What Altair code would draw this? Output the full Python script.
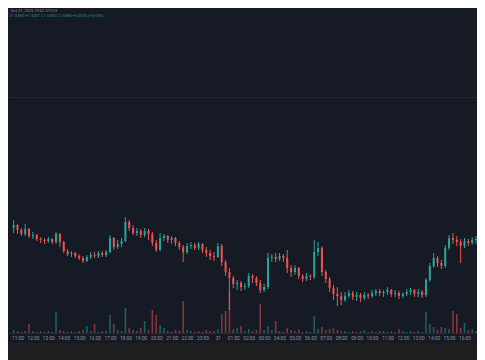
import altair as alt
import pandas as pd

# ---- data (price in chart units, 15-minute candles) ----
header_lines = [", Oct 31, 2025 19:02 UTC+3",
                "O1.5383 H1.5401 L1.5380 C1.5388 +0.0005 (+0.03%)"]
start_time = "2025-10-30 10:45"
first_open = 122
closes = [125, 120, 116, 121, 114, 115, 111, 110, 109, 111, 108, 116, 108, 99, 96, 97, 94, 92, 89, 93,
          95, 94, 97, 95, 98, 112, 103, 106, 109, 128, 122, 117, 119, 115, 119, 116, 107, 100, 112, 114,
          110, 112, 107, 103, 98, 104, 105, 102, 106, 100, 97, 94, 93, 104, 88, 78, 72, 66, 67, 63,
          64, 74, 72, 67, 60, 63, 92, 93, 91, 94, 92, 82, 78, 82, 74, 71, 74, 73, 98, 102,
          78, 71, 62, 56, 54, 50, 54, 57, 53, 55, 52, 55, 54, 57, 59, 57, 58, 60, 56, 57,
          54, 56, 58, 60, 56, 58, 55, 70, 84, 92, 87, 84, 102, 112, 110, 108, 104, 109, 107, 110,
          111]
highs = [130, 126, 122, 126, 122, 118, 116, 113, 112, 113, 112, 118, 117, 109, 101, 99, 98, 96, 94, 95,
         98, 98, 99, 99, 100, 115, 113, 110, 112, 133, 130, 125, 122, 121, 122, 121, 118, 110, 117, 116,
         115, 114, 113, 109, 105, 107, 108, 107, 108, 107, 103, 100, 98, 107, 106, 90, 82, 74, 70, 69,
         67, 77, 76, 74, 70, 66, 97, 96, 97, 97, 96, 100, 85, 85, 83, 76, 77, 76, 110, 108,
         104, 80, 73, 65, 63, 58, 58, 60, 59, 58, 57, 58, 57, 60, 61, 61, 60, 63, 61, 60,
         59, 58, 61, 62, 61, 61, 60, 72, 87, 97, 94, 90, 105, 115, 117, 114, 111, 112, 111, 113,
         114]
lows = [117, 116, 114, 114, 112, 111, 109, 107, 106, 107, 106, 106, 103, 97, 94, 93, 92, 90, 87, 88,
        91, 92, 92, 93, 93, 97, 100, 101, 103, 108, 119, 115, 114, 112, 113, 110, 104, 98, 99, 109,
        107, 106, 104, 100, 88, 96, 101, 100, 100, 97, 93, 90, 89, 92, 84, 74, 40, 62, 60, 59,
        60, 62, 67, 64, 57, 58, 61, 88, 88, 89, 88, 77, 73, 75, 71, 68, 69, 70, 71, 94,
        74, 67, 58, 50, 44, 45, 48, 52, 50, 49, 48, 50, 51, 52, 54, 54, 53, 55, 53, 53,
        51, 52, 54, 55, 53, 53, 52, 53, 68, 82, 83, 81, 82, 100, 106, 104, 87, 102, 104, 105,
        106]
volumes = [30, 20, 10, 20, 90, 20, 10, 20, 10, 20, 10, 210, 30, 20, 10, 20, 10, 20, 30, 70,
           20, 90, 10, 20, 20, 180, 90, 30, 20, 250, 50, 30, 20, 50, 120, 30, 230, 180, 80, 50,
           20, 10, 30, 20, 320, 30, 20, 10, 20, 10, 30, 20, 20, 40, 190, 220, 420, 40, 50, 70,
           20, 40, 20, 30, 290, 30, 70, 30, 120, 20, 10, 50, 30, 20, 30, 10, 20, 10, 170, 40,
           60, 30, 40, 50, 30, 20, 20, 10, 20, 10, 20, 30, 10, 20, 10, 20, 20, 10, 20, 10,
           40, 20, 10, 20, 10, 20, 10, 210, 90, 60, 30, 60, 50, 40, 220, 190, 50, 100, 30, 40,
           20]
hour_ticks = ["2025-10-30T%02d:00:00Z" % h for h in range(11, 24)] + \
             ["2025-10-31T%02d:00:00Z" % h for h in range(0, 17)]

UP, DOWN = "#26a69a", "#ef5350"
BG = "#161a25"
STRIP = "#1f1f21"
W, H = 469, 352        # whole chart
PH = 325               # price/volume pane height
AXH = 10               # time-axis strip height

times = pd.date_range(start_time, periods=len(closes), freq="15min")
opens = [first_open] + closes[:-1]
df = pd.DataFrame({
    "t": times.strftime("%Y-%m-%dT%H:%M:%SZ"),
    "open": opens, "high": highs, "low": lows, "close": closes, "volume": volumes,
})
df["dir"] = ["up" if c >= o else "down" for o, c in zip(opens, closes)]

tick_dt = [alt.DateTime(year=int(s[0:4]), month=int(s[5:7]), date=int(s[8:10]),
                        hours=int(s[11:13]), utc=True) for s in hour_ticks]
x_start = alt.DateTime(year=2025, month=10, date=30, hours=10, minutes=42, seconds=30, utc=True)
x_end = alt.DateTime(year=2025, month=10, date=31, hours=16, minutes=29, seconds=10, utc=True)
xscale = alt.Scale(type="utc", domain=[x_start, x_end])

x_axis = alt.Axis(
    title=None, values=tick_dt, orient="bottom", offset=-(H - PH),
    labelExpr="utchours(datum.value) == 0 ? utcFormat(datum.value, '%d') : utcFormat(datum.value, '%H:%M')",
    labelFontSize=4.8, labelColor="#8d919b", labelPadding=2.5, ticks=False,
    domainColor="#262a35", grid=False, labelOverlap=False, labelFlush=False,
    labelFont="Roboto", zindex=2,
)
X = alt.X("t:T", scale=xscale, axis=x_axis)
pscale = alt.Scale(domain=[17, 342], range=[PH, 0], nice=False, zero=False)
color = alt.Color("dir:N", scale=alt.Scale(domain=["up", "down"], range=[UP, DOWN]), legend=None)

base = alt.Chart(df)
strip = alt.Chart(pd.DataFrame({"v": [0]})).mark_rect(color=STRIP).encode(
    x=alt.value(0), x2=alt.value(W), y=alt.value(PH + AXH), y2=alt.value(H)
)
vols = base.mark_bar(size=1.6, opacity=0.5, clip=True).encode(
    x=X,
    y=alt.Y("volume:Q", scale=alt.Scale(domain=[0, 3250], range=[PH, 0], nice=False, zero=True), axis=None),
    color=color,
)
wicks = base.mark_rule(strokeWidth=1, clip=True).encode(
    x=X,
    y=alt.Y("low:Q", scale=pscale,
            axis=alt.Axis(values=[253], grid=True, gridColor="#242833", labels=False, ticks=False,
                          domain=False, title=None, minExtent=0, maxExtent=0)),
    y2="high:Q",
    color=color,
)
bodies = base.mark_bar(size=2.0, clip=True).encode(
    x=X,
    y=alt.Y("open:Q", scale=pscale, axis=None),
    y2="close:Q",
    color=color,
)
hdr1 = alt.Chart(pd.DataFrame({"s": [header_lines[0]]})).mark_text(
    align="left", baseline="top", fontSize=4, color="#8f939c", font="Roboto"
).encode(x=alt.value(1), y=alt.value(0.5), text="s:N")
hdr2 = alt.Chart(pd.DataFrame({"s": [header_lines[1]]})).mark_text(
    align="left", baseline="top", fontSize=4, color="#1f8f84", font="Roboto"
).encode(x=alt.value(1), y=alt.value(6), text="s:N")

chart = alt.layer(strip, vols, wicks, bodies, hdr1, hdr2).resolve_scale(y="independent").properties(
    width=W, height=H, padding=0, background=BG,
    autosize=alt.AutoSizeParams(type="none"),
).configure_view(stroke=None).configure_axis(labelOverlap=False)

chart.save("out.html", embed_options={"renderer": "svg", "actions": False})
